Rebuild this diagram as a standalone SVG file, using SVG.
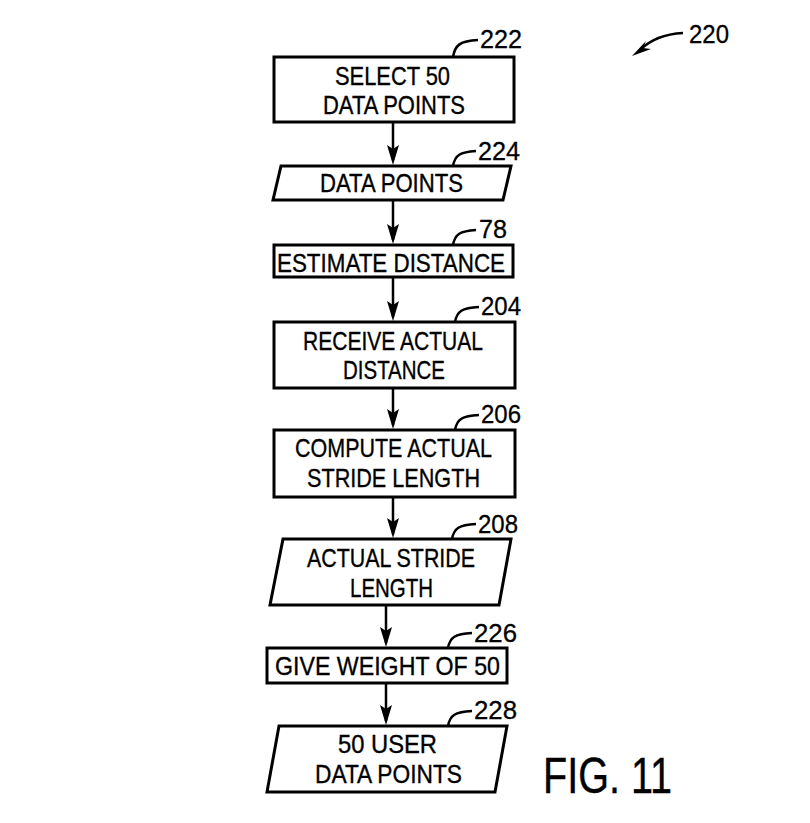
<svg xmlns="http://www.w3.org/2000/svg" width="810" height="823" viewBox="0 0 810 823">
<style>
.box{fill:#fff;stroke:#000;stroke-width:3}
.t{font-family:"Liberation Sans",Arial,sans-serif;font-size:25.5px;fill:#000;stroke:#000;stroke-width:0.35}
.lbl{font-family:"Liberation Sans",Arial,sans-serif;font-size:26.5px;fill:#000;stroke:#000;stroke-width:0.3}
.lead{fill:none;stroke:#000;stroke-width:2.5}
.con{fill:none;stroke:#000;stroke-width:2.5}
.fig{font-family:"Liberation Sans",Arial,sans-serif;font-size:50px;fill:#000;stroke:#000;stroke-width:0.4}
</style>
<rect width="810" height="823" fill="#fff"/>

<g id="connectors">
<line class="con" x1="393" y1="122" x2="393" y2="160"/>
<line class="con" x1="393" y1="200" x2="393" y2="240"/>
<line class="con" x1="393" y1="277" x2="393" y2="317"/>
<line class="con" x1="393" y1="388" x2="393" y2="425"/>
<line class="con" x1="393" y1="497" x2="393" y2="534"/>
<line class="con" x1="386" y1="605" x2="386" y2="643"/>
<line class="con" x1="386" y1="683" x2="386" y2="721"/>
<path d="M387,145 L393,165 L399,145 L393,149 Z"/>
<path d="M387,224 L393,244 L399,224 L393,228 Z"/>
<path d="M387,301 L393,321 L399,301 L393,305 Z"/>
<path d="M387,409 L393,429 L399,409 L393,413 Z"/>
<path d="M387,518 L393,538 L399,518 L393,522 Z"/>
<path d="M380,627 L386,647 L392,627 L386,631 Z"/>
<path d="M380,705 L386,725 L392,705 L386,709 Z"/>
</g>

<g id="ref220">
<path class="lead" d="M683,33 C665,34 650,40 640,50"/>
<path d="M632,56 L646,41 L643,48 L651,49 Z"/>
<text class="lbl" x="689" y="43" textLength="40" lengthAdjust="spacingAndGlyphs">220</text>
</g>

<g id="n222">
<rect class="box" x="274" y="57" width="240" height="65"/>
<text class="t" x="335" y="85" textLength="115" lengthAdjust="spacingAndGlyphs">SELECT 50</text>
<text class="t" x="323" y="114" textLength="142" lengthAdjust="spacingAndGlyphs">DATA POINTS</text>
<path class="lead" d="M453,57 C455,45 460,41 478,40"/>
<text class="lbl" x="480" y="48" textLength="42" lengthAdjust="spacingAndGlyphs">222</text>
</g>

<g id="n224">
<path class="box" d="M281,166 L511,166 L503,200 L273,200 Z"/>
<text class="t" x="320" y="192" textLength="143" lengthAdjust="spacingAndGlyphs">DATA POINTS</text>
<path class="lead" d="M453,166 C455,155 460,152 476,151"/>
<text class="lbl" x="478" y="160" textLength="42" lengthAdjust="spacingAndGlyphs">224</text>
</g>

<g id="n78">
<rect class="box" x="274" y="245" width="239" height="32"/>
<text class="t" x="277" y="272" textLength="228" lengthAdjust="spacingAndGlyphs">ESTIMATE DISTANCE</text>
<path class="lead" d="M453,245 C455,234 460,231 476,230"/>
<text class="lbl" x="479" y="238" textLength="28" lengthAdjust="spacingAndGlyphs">78</text>
</g>

<g id="n204">
<rect class="box" x="274" y="322" width="241" height="66"/>
<text class="t" x="303" y="350" textLength="180" lengthAdjust="spacingAndGlyphs">RECEIVE ACTUAL</text>
<text class="t" x="343" y="379" textLength="102" lengthAdjust="spacingAndGlyphs">DISTANCE</text>
<path class="lead" d="M455,322 C457,311 462,308 479,307"/>
<text class="lbl" x="481" y="315" textLength="40" lengthAdjust="spacingAndGlyphs">204</text>
</g>

<g id="n206">
<rect class="box" x="274" y="430" width="241" height="67"/>
<text class="t" x="295" y="457" textLength="197" lengthAdjust="spacingAndGlyphs">COMPUTE ACTUAL</text>
<text class="t" x="307" y="487" textLength="173" lengthAdjust="spacingAndGlyphs">STRIDE LENGTH</text>
<path class="lead" d="M455,430 C457,419 462,416 479,415"/>
<text class="lbl" x="481" y="423" textLength="40" lengthAdjust="spacingAndGlyphs">206</text>
</g>

<g id="n208">
<path class="box" d="M283,539 L511,539 L499,605 L270,605 Z"/>
<text class="t" x="307" y="567" textLength="168" lengthAdjust="spacingAndGlyphs">ACTUAL STRIDE</text>
<text class="t" x="350" y="597" textLength="83" lengthAdjust="spacingAndGlyphs">LENGTH</text>
<path class="lead" d="M452,539 C454,528 459,525 476,524"/>
<text class="lbl" x="478" y="533" textLength="40" lengthAdjust="spacingAndGlyphs">208</text>
</g>

<g id="n226">
<rect class="box" x="267" y="648" width="240" height="35"/>
<text class="t" x="275" y="675" textLength="225" lengthAdjust="spacingAndGlyphs">GIVE WEIGHT OF 50</text>
<path class="lead" d="M448,648 C450,637 455,634 472,633"/>
<text class="lbl" x="474" y="642" textLength="43" lengthAdjust="spacingAndGlyphs">226</text>
</g>

<g id="n228">
<path class="box" d="M279,726 L507,726 L495,792 L267,792 Z"/>
<text class="t" x="338" y="753" textLength="99" lengthAdjust="spacingAndGlyphs">50 USER</text>
<text class="t" x="315" y="783" textLength="147" lengthAdjust="spacingAndGlyphs">DATA POINTS</text>
<path class="lead" d="M448,726 C450,715 455,712 472,711"/>
<text class="lbl" x="474" y="719" textLength="43" lengthAdjust="spacingAndGlyphs">228</text>
</g>

<text class="fig" x="543" y="793" textLength="129" lengthAdjust="spacingAndGlyphs">FIG. 11</text>
</svg>
